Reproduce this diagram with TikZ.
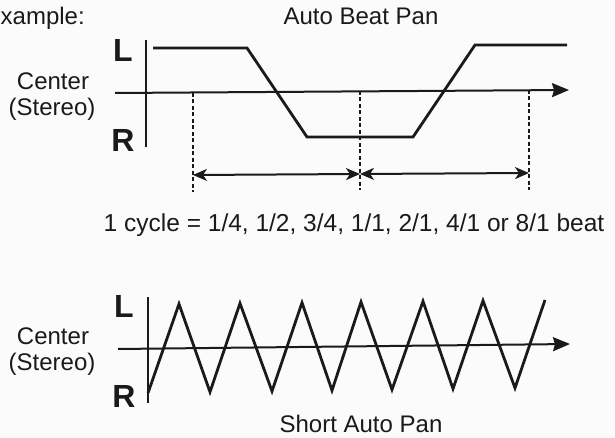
\documentclass[tikz,border=0pt]{standalone}
\usepackage{fontspec}
\setmainfont{Liberation Sans}
\usetikzlibrary{arrows.meta}
\definecolor{ink}{HTML}{1A1A1A}
\definecolor{paper}{HTML}{FBFBFB}
\begin{document}
\begin{tikzpicture}[x=1pt,y=-1pt,
  lbl/.style={font=\fontsize{24}{28}\selectfont, text=ink, inner sep=0pt, anchor=base},
  lr/.style={font=\fontsize{32}{36}\selectfont\bfseries, text=ink, inner sep=0pt, anchor=base},
  axisline/.style={draw=ink, line width=2pt},
  axisarrow/.style={draw=ink, line width=2pt, -{Stealth[length=17pt,width=14pt,inset=2pt]}},
  sig/.style={draw=ink, line width=2.8pt, line join=miter},
  guide/.style={draw=ink, line width=1.8pt, dash pattern=on 4pt off 2.5pt},
  span/.style={draw=ink, line width=2pt, {Stealth[length=14pt,width=12pt,inset=4pt]}-{Stealth[length=14pt,width=12pt,inset=4pt]}},
  ]
\useasboundingbox[fill=paper] (0,0) rectangle (615,438);

% ---------- texts ----------
\node[lbl, anchor=base west] (ex) at (0.5,25) {xample:};
\node[lbl] (t1) at (361,25) {Auto Beat Pan};
\node[lr] (L1) at (123,62) {L};
\node[lr] (R1) at (123,152) {R};
\node[lbl] (c1) at (53,90) {Center};
\node[lbl] (s1) at (52,116) {(Stereo)};
\node[lbl, font=\fontsize{24.5}{28}\selectfont] (cyc) at (354,232) {1 cycle = 1/4, 1/2, 3/4, 1/1, 2/1, 4/1 or 8/1 beat};

\node[lr] (L2) at (124,317) {L};
\node[lr] (R2) at (124,407) {R};
\node[lbl] (c2) at (53,344) {Center};
\node[lbl] (s2) at (52,370) {(Stereo)};
\node[lbl] (t2) at (361,432) {Short Auto Pan};

% ---------- upper chart ----------
\coordinate (v1t) at (146,40);
\coordinate (v1b) at (146,147);
\coordinate (h1l) at (115,93);
\coordinate (h1r) at (569,90);
\draw[axisline] (v1t) -- (v1b);
\draw[axisarrow] (h1l) -- (h1r);
\draw[sig] (153,48) -- (247,48) -- (307,137) -- (413,137) -- (475,45) -- (567,45);

\coordinate (d1t) at (193,93);  \coordinate (d1b) at (193,192);
\coordinate (d2t) at (360,91);  \coordinate (d2b) at (360,190);
\coordinate (d3t) at (529,90);  \coordinate (d3b) at (529,190);
\draw[guide] (d1t) -- (d1b);
\draw[guide] (d2t) -- (d2b);
\draw[guide] (d3t) -- (d3b);

\coordinate (p1) at (193,175);
\coordinate (p2) at (360,174);
\coordinate (p3) at (529,173);
\draw[span] (p1) -- (p2);
\draw[span] (p2) -- (p3);

% ---------- lower chart ----------
\coordinate (v2t) at (148,297);
\coordinate (v2b) at (148,403);
\coordinate (h2l) at (118,349);
\coordinate (h2r) at (570,344);
\draw[axisline] (v2t) -- (v2b);
\draw[axisarrow] (h2l) -- (h2r);
\draw[sig] (148,393) -- (179,304) -- (210,392) -- (240,303.3) -- (272,391.2)
  -- (302,302.7) -- (332,390.4) -- (361,302) -- (392,389.6) -- (423,301.3)
  -- (453,388.8) -- (483,300.7) -- (515,388) -- (545,300);
\end{tikzpicture}
\end{document}
